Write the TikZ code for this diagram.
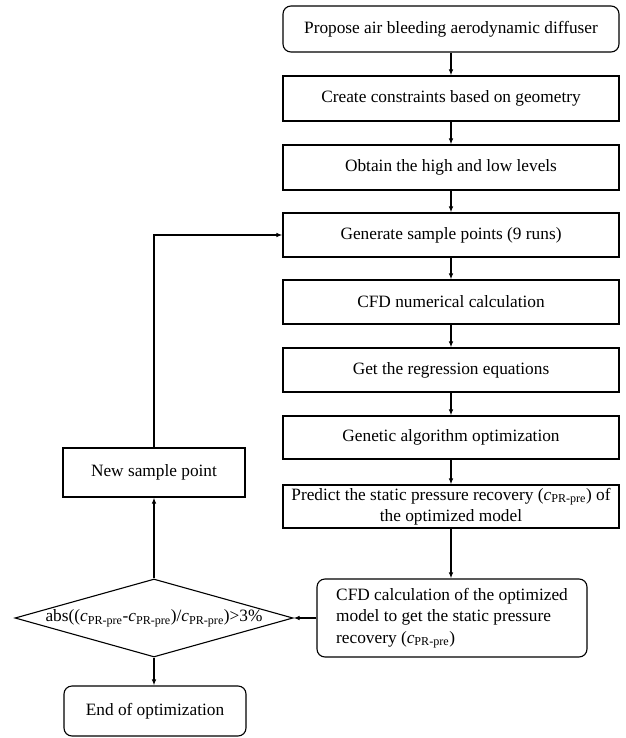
\documentclass[tikz,border=0pt]{standalone}
\usepackage{fontspec}
\setmainfont{Liberation Serif}
\usetikzlibrary{shapes.geometric,arrows.meta}
\newcommand{\cpr}{\textit{c}\textsubscript{PR-pre}}
\begin{document}
\begin{tikzpicture}[x=1pt,y=1pt,
  every node/.style={font=\fontsize{17.3}{21.5}\selectfont},
  box/.style={draw,line width=1.1pt,rectangle,inner sep=2pt,align=center},
  rbox/.style={box,rounded corners=8pt},
  arr/.style={line width=1.1pt,-{Latex[length=6pt,width=4.5pt]}}]
\useasboundingbox (0,0) rectangle (625,-738);
\node[rbox,minimum width=336,minimum height=46] (b1) at (451,-29) {Propose air bleeding aerodynamic diffuser};
\node[box,minimum width=336,minimum height=45] (b2) at (451,-98.5) {Create constraints based on geometry};
\node[box,minimum width=336,minimum height=45] (b3) at (451,-167.5) {Obtain the high and low levels};
\node[box,minimum width=336,minimum height=44] (b4) at (451,-235) {Generate sample points (9 runs)};
\node[box,minimum width=336,minimum height=44] (b5) at (451,-302) {CFD numerical calculation};
\node[box,minimum width=336,minimum height=44] (b6) at (451,-370) {Get the regression equations};
\node[box,minimum width=336,minimum height=43] (b7) at (451,-437.5) {Genetic algorithm optimization};
\node[box,minimum width=336,minimum height=43,inner sep=1pt] (b8) at (451,-506.5) {Predict the static pressure recovery (\cpr) of\\the optimized model};
\node[rbox,minimum width=270,minimum height=78,align=left] (c) at (452,-618) {CFD calculation of the optimized\\model to get the static pressure\\recovery (\cpr)};
\node[draw,line width=1.1pt,diamond,aspect=3.56,inner sep=0pt,minimum width=278,minimum height=78] (d) at (154,-618) {\makebox[0pt][c]{abs((\cpr-\cpr)/\cpr)>3\%}};
\node[box,minimum width=182,minimum height=49] (n) at (154,-472.5) {New sample point};
\node[rbox,minimum width=182,minimum height=50] (e) at (155,-711) {End of optimization};
\draw[arr] (b1) -- (b2);
\draw[arr] (b2) -- (b3);
\draw[arr] (b3) -- (b4);
\draw[arr] (b4) -- (b5);
\draw[arr] (b5) -- (b6);
\draw[arr] (b6) -- (b7);
\draw[arr] (b7) -- (b8);
\draw[arr] (b8.south) -- (b8.south |- c.north);
\draw[arr] (c.west) -- (d.east);
\draw[arr] (d.north) -- (d.north |- n.south);
\draw[arr] (n.north -| d.north) |- (b4.west);
\draw[arr] (d.south) -- (d.south |- e.north);
\end{tikzpicture}
\end{document}
